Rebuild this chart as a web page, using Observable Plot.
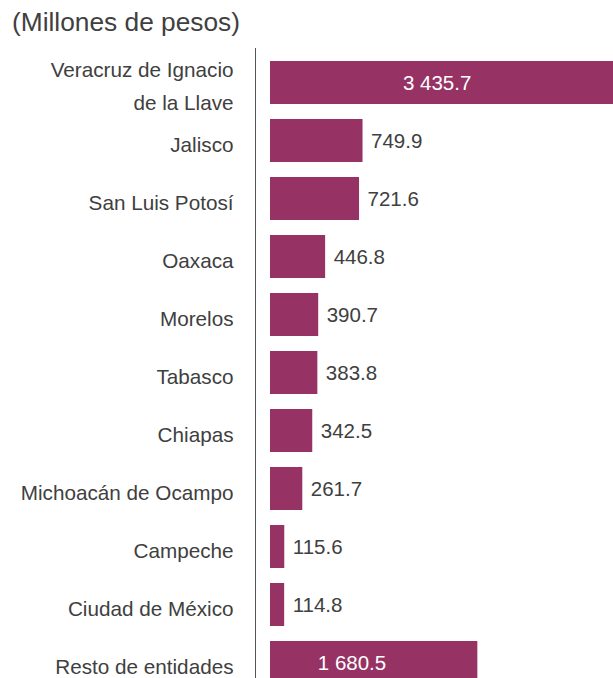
<!DOCTYPE html>
<html>
<head>
<meta charset="utf-8">
<script src="https://cdn.jsdelivr.net/npm/d3@7"></script>
<script src="https://cdn.jsdelivr.net/npm/@observablehq/plot@0.6"></script>
<style>
  html, body { margin: 0; padding: 0; background: #fff; overflow: hidden; }
  body { width: 613px; height: 678px; font-family: "Liberation Sans", Arial, sans-serif; }
  #title { height: 48px; line-height: 44px; padding-left: 12px; font-size: 26.3px; color: #404040; white-space: nowrap; }
  #chart svg { display: block; overflow: hidden; }
</style>
</head>
<body>
<div id="title">(Millones de pesos)</div>
<div id="chart"></div>
<script>
const states = [
  "Veracruz de Ignacio\nde la Llave",
  "Jalisco",
  "San Luis Potosí",
  "Oaxaca",
  "Morelos",
  "Tabasco",
  "Chiapas",
  "Michoacán de Ocampo",
  "Campeche",
  "Ciudad de México",
  "Resto de entidades"
];
const values = [3435.7, 749.9, 721.6, 446.8, 390.7, 383.8, 342.5, 261.7, 115.6, 114.8, 1680.5];
const valueLabels = ["3 435.7", "749.9", "721.6", "446.8", "390.7", "383.8", "342.5", "261.7", "115.6", "114.8", "1 680.5"];

const data = states.map((s, i) => ({state: s, value: values[i], label: valueLabels[i]}));
const inside = data.filter(d => d.value > 1000);
const outside = data.filter(d => d.value <= 1000);

const barColor = "#963264";
const textColor = "#404040";

const chart = Plot.plot({
  width: 613,
  height: 630,
  marginLeft: 270,
  marginRight: 0,
  marginTop: 0,
  marginBottom: 0,
  style: {fontFamily: '"Liberation Sans", Arial, sans-serif', background: "#fff", overflow: "hidden"},
  x: {domain: [0, 2780], axis: null},
  y: {domain: states, range: [-3.1, 651.1], padding: 0.26, axis: null},
  marks: [
    Plot.ruleX([0], {dx: -15, stroke: "#555", strokeWidth: 1}),
    Plot.barX(data, {x: "value", y: "state", fill: barColor}),
    Plot.text(data, {y: "state", text: "state", frameAnchor: "left", textAnchor: "end", dx: -37, fontSize: 20.7, fill: textColor, lineHeight: 1.6}),
    Plot.text(outside, {x: "value", y: "state", text: "label", textAnchor: "start", dx: 8, fontSize: 20.5, fill: textColor}),
    Plot.text(inside, {x: d => d.value * 0.393, y: "state", text: "label", textAnchor: "middle", fontSize: 20.5, fill: "#fff"})
  ]
});
document.getElementById("chart").appendChild(chart);
</script>
</body>
</html>
